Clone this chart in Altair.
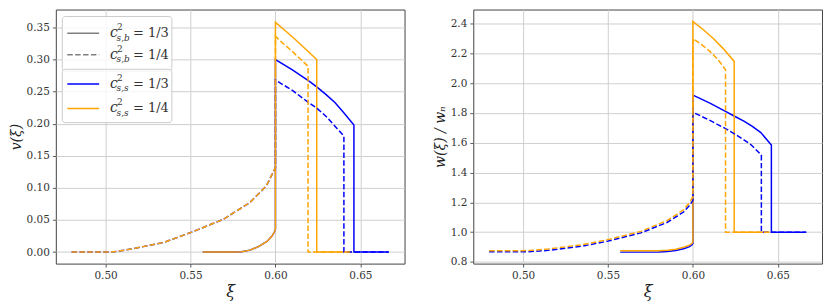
import altair as alt
import pandas as pd

# ---------------- data ----------------
# behind the wall (rarefaction), c_s,b^2 = 1/3
XI_RAR_B3 = [0.5572, 0.575, 0.58, 0.585, 0.59, 0.595, 0.598, 0.5995, 0.6]
V_RAR_B3 = [0.0, 0.0, 0.0005, 0.003, 0.0085, 0.0165, 0.025, 0.032, 0.036]
W_RAR_B3_S3 = [0.866, 0.866, 0.867, 0.870, 0.877, 0.890, 0.903, 0.915, 0.925]
W_RAR_B3_S4 = [0.875, 0.875, 0.876, 0.879, 0.886, 0.900, 0.913, 0.925, 0.935]

# behind the wall (rarefaction), c_s,b^2 = 1/4
XI_RAR_B4 = [0.48, 0.50, 0.505, 0.515, 0.5343, 0.55, 0.5693, 0.5848, 0.5945, 0.5984, 0.6]
V_RAR_B4 = [0.0, 0.0, 0.0005, 0.0046, 0.015, 0.0303, 0.051, 0.0768, 0.1026, 0.123, 0.132]
W_RAR_B4_S3 = [0.868, 0.868, 0.870, 0.878, 0.905, 0.940, 0.995, 1.065, 1.135, 1.185, 1.215]
W_RAR_B4_S4 = [0.875, 0.876, 0.878, 0.887, 0.915, 0.950, 1.005, 1.078, 1.150, 1.205, 1.240]

# in front of the wall (shock region)
XI_SH_B3_S3 = [0.6, 0.61, 0.62, 0.6245, 0.63, 0.635, 0.64, 0.6462, 0.6462, 0.6667]
V_SH_B3_S3 = [0.300, 0.284, 0.266, 0.257, 0.245, 0.233, 0.218, 0.198, 0.0, 0.0]
W_SH_B3_S3 = [1.920, 1.866, 1.805, 1.778, 1.745, 1.710, 1.668, 1.584, 1.0, 1.0]

XI_SH_B4_S3 = [0.6, 0.61, 0.62, 0.6245, 0.63, 0.6344, 0.6403, 0.6403, 0.6667]
V_SH_B4_S3 = [0.268, 0.252, 0.232, 0.224, 0.211, 0.198, 0.181, 0.0, 0.0]
W_SH_B4_S3 = [1.805, 1.750, 1.690, 1.660, 1.620, 1.585, 1.517, 1.0, 1.0]

XI_SH_B3_S4 = [0.6, 0.606, 0.612, 0.618, 0.6243, 0.6243, 0.645]
V_SH_B3_S4 = [0.358, 0.3445, 0.3305, 0.3158, 0.300, 0.0, 0.0]
W_SH_B3_S4 = [2.413, 2.360, 2.300, 2.230, 2.146, 1.0, 1.0]

XI_SH_B4_S4 = [0.6, 0.605, 0.61, 0.615, 0.6192, 0.6192, 0.645]
V_SH_B4_S4 = [0.336, 0.324, 0.3125, 0.300, 0.2895, 0.0, 0.0]
W_SH_B4_S4 = [2.298, 2.260, 2.213, 2.155, 2.090, 1.0, 1.0]

X_TICKS = [0.50, 0.55, 0.60, 0.65]
V_TICKS = [0.00, 0.05, 0.10, 0.15, 0.20, 0.25, 0.30, 0.35]
W_TICKS = [0.8, 1.0, 1.2, 1.4, 1.6, 1.8, 2.0, 2.2, 2.4]

LEGEND_LABELS = [("s,b", "1/3"), ("s,b", "1/4"), ("s,s", "1/3"), ("s,s", "1/4")]

# ---------------- styling ----------------
BLUE = "#0000ff"
ORANGE = "#ffa500"
GRAY = "#808080"
DASH = [5.5, 2.4]
FONT = "DejaVu Serif"

curves = [
    (XI_RAR_B3, V_RAR_B3, W_RAR_B3_S3, XI_SH_B3_S3, V_SH_B3_S3, W_SH_B3_S3, BLUE, False),
    (XI_RAR_B3, V_RAR_B3, W_RAR_B3_S4, XI_SH_B3_S4, V_SH_B3_S4, W_SH_B3_S4, ORANGE, False),
    (XI_RAR_B4, V_RAR_B4, W_RAR_B4_S3, XI_SH_B4_S3, V_SH_B4_S3, W_SH_B4_S3, BLUE, True),
    (XI_RAR_B4, V_RAR_B4, W_RAR_B4_S4, XI_SH_B4_S4, V_SH_B4_S4, W_SH_B4_S4, ORANGE, True),
]

X_DOM = [0.4707, 0.6760]
PW, PH = 350, 255


def curve_frame(c):
    xr, vr, wr, xs, vs, ws, _, _ = c
    xi = list(xr) + list(xs)
    return pd.DataFrame({"xi": xi, "v": list(vr) + list(vs), "w": list(wr) + list(ws),
                         "i": list(range(len(xi)))})


def axis(values, fmt, title, size):
    return alt.Axis(values=values, format=fmt, title=title, labelFont=FONT, labelFontSize=10.5,
                    labelColor="#333333", titleFont=FONT, titleFontSize=size,
                    titleFontStyle="italic", titleFontWeight="normal", titleColor="#222222")


def panel(field, ydom, yticks, yfmt, ytitle, legend=False):
    layers = []
    for c in curves:
        kw = dict(color=c[6], strokeWidth=1.5, clip=True)
        if c[7]:
            kw["strokeDash"] = DASH
        layers.append(
            alt.Chart(curve_frame(c)).mark_line(**kw).encode(
                x=alt.X("xi:Q", scale=alt.Scale(domain=X_DOM, nice=False, zero=False),
                        axis=axis(X_TICKS, ".2f", "ξ", 16)),
                y=alt.Y(f"{field}:Q", scale=alt.Scale(domain=ydom, nice=False, zero=False),
                        axis=axis(yticks, yfmt, ytitle, 14)),
                order="i:Q",
            )
        )
    if legend:
        one = pd.DataFrame({"a": [0]})
        for (y1, y2) in [(7, 62), (60, 113.5)]:
            layers.append(alt.Chart(one).mark_rect(fill="white", fillOpacity=0.8, stroke="#cccccc",
                                                   strokeWidth=1, cornerRadius=3).encode(
                x=alt.value(6.5), x2=alt.value(116.5), y=alt.value(y1), y2=alt.value(y2)))
        ys = [23.7, 45.3, 74.7, 99.3]
        cols = [GRAY, GRAY, BLUE, ORANGE]
        dashed = [False, True, False, False]
        for k, (sub, val) in enumerate(LEGEND_LABELS):
            y = ys[k]
            kw = dict(color=cols[k], strokeWidth=1.5)
            if dashed[k]:
                kw["strokeDash"] = DASH
            layers.append(alt.Chart(one).mark_rule(**kw).encode(
                x=alt.value(11.5), x2=alt.value(43.5), y=alt.value(y)))
            layers.append(alt.Chart(one).mark_text(align="left", baseline="middle", font=FONT,
                                                   fontSize=14, fontStyle="italic", color="#333333").encode(
                x=alt.value(54.5), y=alt.value(y), text=alt.value("c")))
            layers.append(alt.Chart(one).mark_text(align="left", baseline="middle", font=FONT,
                                                   fontSize=9, color="#333333").encode(
                x=alt.value(61.5), y=alt.value(y - 6), text=alt.value("2")))
            layers.append(alt.Chart(one).mark_text(align="left", baseline="middle", font=FONT,
                                                   fontSize=9, fontStyle="italic", color="#333333").encode(
                x=alt.value(61), y=alt.value(y + 4.5), text=alt.value(sub)))
            layers.append(alt.Chart(one).mark_text(align="left", baseline="middle", font=FONT,
                                                   fontSize=13, color="#333333").encode(
                x=alt.value(77.5), y=alt.value(y), text=alt.value("= " + val)))
    return alt.layer(*layers).properties(width=PW, height=PH)


left = panel("v", [-0.018, 0.378], V_TICKS, ".2f", "v(ξ)", legend=True)
right = panel("w", [0.789, 2.494], W_TICKS, ".1f", "w(ξ) / wₙ")

chart = alt.hconcat(left, right, spacing=27).properties(padding=0).configure(
    font=FONT
).configure_view(
    stroke="#444444", strokeWidth=1
).configure_axis(
    grid=True, gridColor="#cfcfcf", gridWidth=1, domain=False,
    tickColor="#333333", tickSize=3.5, tickWidth=0.8, labelPadding=3, titlePadding=3,
)

chart.save("out.html", embed_options={"renderer": "svg", "actions": False})
